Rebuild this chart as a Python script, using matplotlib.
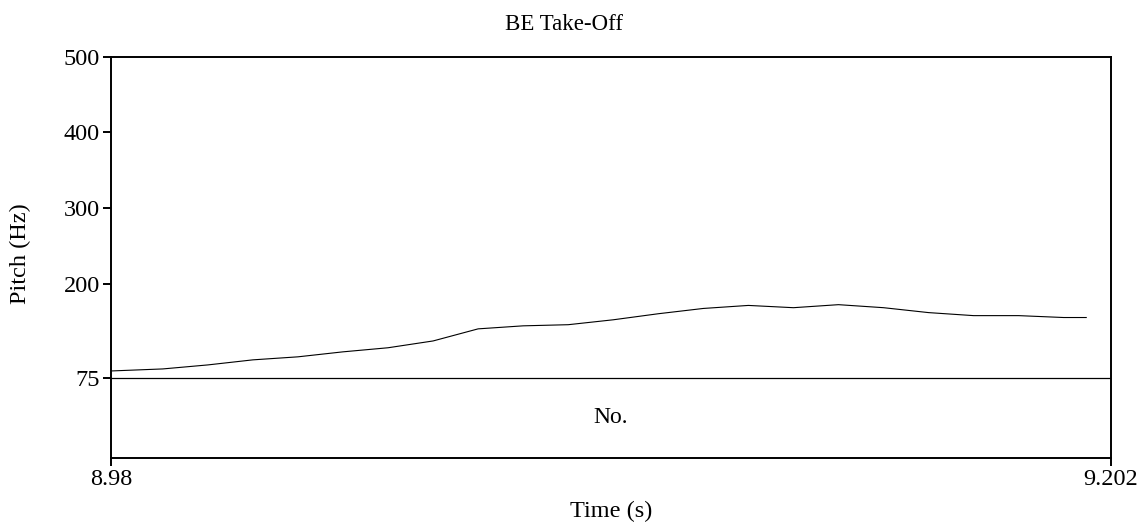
import matplotlib
matplotlib.use("Agg")
import matplotlib.pyplot as plt

# Pitch track (Hz) sampled every ~10 ms
times = [8.980, 8.9915, 9.0015, 9.0115, 9.0215, 9.0315, 9.0415, 9.0515,
         9.0615, 9.0715, 9.0815, 9.0915, 9.1015, 9.1115, 9.1215, 9.1315,
         9.1415, 9.1515, 9.1615, 9.1715, 9.1815, 9.1915, 9.1965]
pitch = [84.3, 87.0, 92.3, 99.0, 103.0, 109.6, 115.0, 124.0,
         140.0, 144.0, 145.5, 152.0, 160.0, 167.0, 171.0, 168.0,
         172.0, 168.0, 161.5, 157.5, 157.5, 155.0, 155.0]

t_start, t_end = 8.98, 9.202
pitch_floor, pitch_ceiling = 75, 500
y_ticks = [75, 200, 300, 400, 500]
tier_label = "No."
title = "BE Take-Off"

plt.rcParams["font.family"] = ["Liberation Serif", "DejaVu Serif"]

W, H = 1141, 523
fig = plt.figure(figsize=(W / 100, H / 100), dpi=100)
ax = fig.add_axes([111 / W, 1 - 457.7 / H, 1000 / W, 401 / H])

# tier area below the pitch floor takes the remaining ~80 px
hz_per_px = (pitch_ceiling - pitch_floor) / (378 - 56.7)
y_bottom = pitch_ceiling - 401 * hz_per_px

ax.plot(times, pitch, color="black", linewidth=0.8)
ax.axhline(pitch_floor, color="black", linewidth=0.9)
ax.text((t_start + t_end) / 2, (pitch_floor + y_bottom) / 2, tier_label,
        ha="center", va="center", fontsize=17)

ax.set_xlim(t_start, t_end)
ax.set_ylim(y_bottom, pitch_ceiling)
ax.set_yticks(y_ticks)
ax.set_yticklabels([str(v) for v in y_ticks])
ax.set_xticks([t_start, t_end])
ax.set_xticklabels(["8.98", "9.202"])

ax.tick_params(direction="out", length=6, width=1.4, labelsize=17.5, pad=2)
for spine in ax.spines.values():
    spine.set_linewidth(1.4)
    spine.set_color("black")

fig.text(20 / W, 1 - 254 / H, "Pitch (Hz)", rotation=90, ha="center", va="center", fontsize=17.5)
fig.text(611 / W, 1 - 517 / H, "Time (s)", ha="center", va="baseline", fontsize=17.5)
fig.text(564 / W, 1 - 30 / H, title, ha="center", va="baseline", fontsize=16.5)

fig.savefig("out.png", dpi=100, facecolor="white")
